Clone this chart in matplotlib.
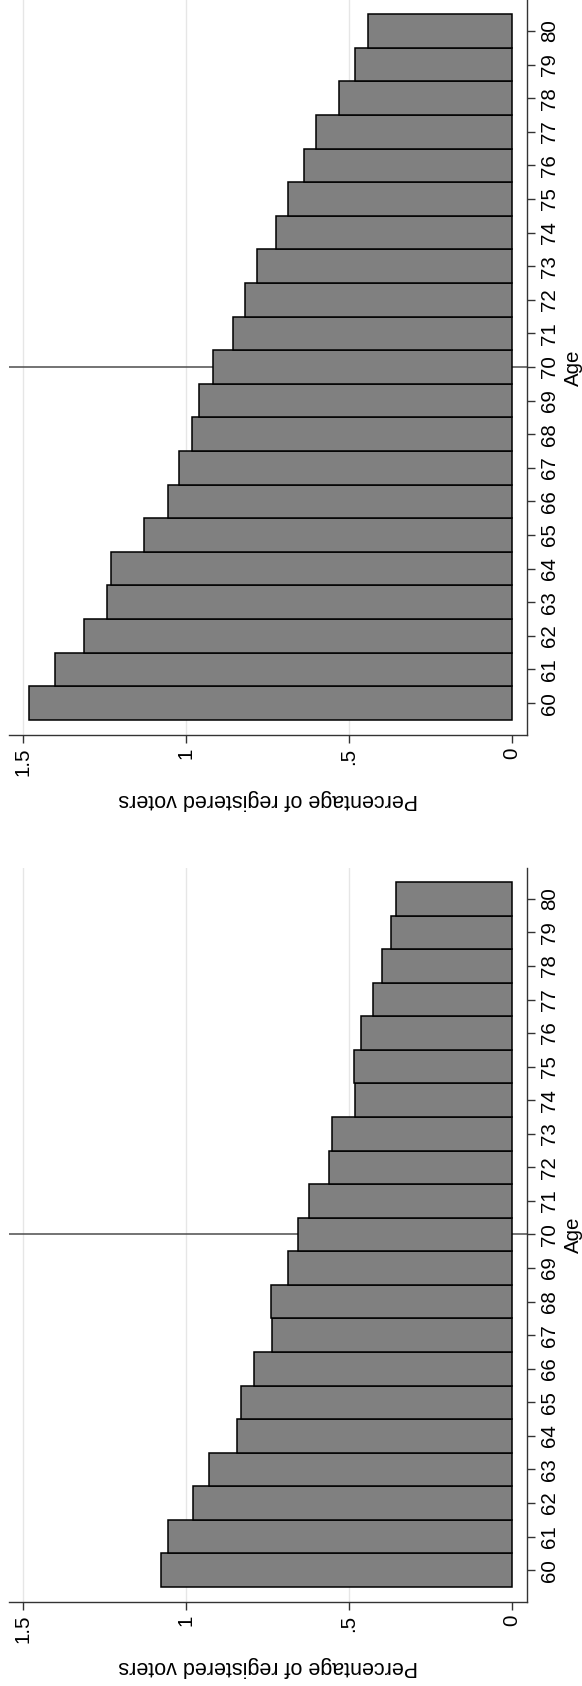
import matplotlib
matplotlib.use("Agg")
import matplotlib.pyplot as plt

plt.rcParams['font.family'] = ['Liberation Sans', 'DejaVu Sans']

ages = list(range(60, 81))
top_values = [1.481, 1.401, 1.312, 1.241, 1.230, 1.130, 1.054, 1.023, 0.982, 0.959,
              0.917, 0.856, 0.818, 0.781, 0.723, 0.688, 0.637, 0.601, 0.530, 0.481, 0.442]
bottom_values = [1.076, 1.054, 0.979, 0.928, 0.845, 0.831, 0.790, 0.737, 0.740, 0.687,
                 0.655, 0.623, 0.562, 0.551, 0.482, 0.486, 0.464, 0.425, 0.399, 0.372, 0.355]
value_ticks = [0, 0.5, 1, 1.5]
value_ticklabels = ['0', '.5', '1', '1.5']
cutoff_age = 70
xlabel = 'Percentage of registered voters'
ylabel = 'Age'

W, H = 582, 1686
fig = plt.figure(figsize=(W / 100, H / 100), dpi=100)

def px_axes(x0, y0, x1, y1):
    return fig.add_axes([x0 / W, 1 - y1 / H, (x1 - x0) / W, (y1 - y0) / H])

axes = [px_axes(9, 0, 527, 735), px_axes(9, 868, 527, 1602)]
axis_col = '#333333'

for ax, vals in zip(axes, [top_values, bottom_values]):
    for v in value_ticks[1:]:
        ax.axvline(v, color='#e6e6e6', lw=1.0, zorder=0)
    ax.axhline(cutoff_age, color='#4d4d4d', lw=1.1, zorder=0.5)
    ax.barh(ages, vals, height=1.0, color='#808080', edgecolor='black',
            linewidth=1.1, zorder=2)
    ax.set_xlim(1.543, -0.046)
    ax.set_ylim(59.05, 80.92)
    for s in ['left', 'top']:
        ax.spines[s].set_visible(False)
    for s in ['right', 'bottom']:
        ax.spines[s].set_color(axis_col)
        ax.spines[s].set_linewidth(1.0)
    ax.yaxis.tick_right()
    ax.yaxis.set_label_position('right')
    ax.set_yticks(ages)
    ax.set_yticklabels([str(a) for a in ages], rotation=90, va='center',
                       fontsize=14.8)
    ax.set_xticks(value_ticks)
    ax.set_xticklabels(value_ticklabels, rotation=90, ha='center', va='top',
                       fontsize=14.8)
    ax.tick_params(axis='both', length=5.5, width=1.0, color=axis_col, pad=3.6)
    ax.set_xlabel(xlabel, rotation=180, fontsize=15.5, labelpad=9.5)
    ax.set_ylabel(ylabel, rotation=90, fontsize=14.8, labelpad=4)
    ax.set_facecolor('white')

fig.savefig('out.png', dpi=100, facecolor='white')
